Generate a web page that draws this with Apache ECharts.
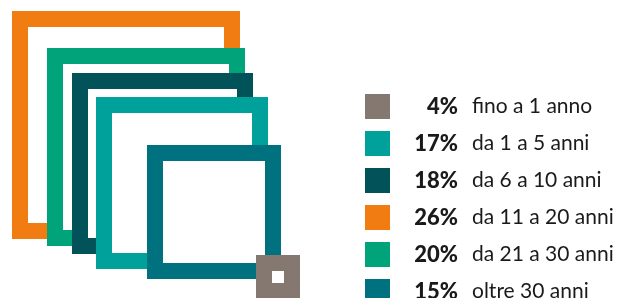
<!DOCTYPE html>
<html>
<head>
<meta charset="utf-8">
<style>
  html, body { margin: 0; padding: 0; background: #fff; }
  #chart { width: 617px; height: 298px; }
</style>
<script src="https://cdn.jsdelivr.net/npm/echarts@6/dist/echarts.min.js"></script>
</head>
<body>
<div id="chart"></div>
<script>
// fasce di anzianità (ordine legenda)
const categories = ['fino a 1 anno', 'da 1 a 5 anni', 'da 6 a 10 anni', 'da 11 a 20 anni', 'da 21 a 30 anni', 'oltre 30 anni']
const percents = [4, 17, 18, 26, 20, 15]
const colors = ['#857870', '#00a19b', '#02525a', '#f07c12', '#00a37a', '#00727f']

// ordine di disegno dei quadrati (dal fondo verso l'alto)
const drawOrder = [3, 4, 2, 1, 5, 0]
// quadrati: [x, y, lato] in unità degli assi
const squareBox = [
  [256, 255, 44],
  [96, 97, 172],
  [72, 73, 181],
  [12, 11, 228],
  [47, 48, 198],
  [147, 145, 134]
]
const frame = 16

const chartInstance = echarts.init(document.getElementById('chart'))

const seriesData = drawOrder.map(idx => {
  return {
    type: 'custom',
    name: categories[idx],
    silent: true,
    itemStyle: { color: colors[idx] },
    data: [squareBox[idx]],
    renderItem: (params, api) => {
      const p0 = api.coord([api.value(0), api.value(1)])
      const p1 = api.coord([api.value(0) + api.value(2), api.value(1) + api.value(2)])
      const half = frame / 2
      return {
        type: 'rect',
        shape: {
          x: p0[0] + half,
          y: p0[1] + half,
          width: p1[0] - p0[0] - frame,
          height: p1[1] - p0[1] - frame
        },
        style: { fill: '#fff', stroke: colors[idx], lineWidth: frame }
      }
    }
  }
})

// legenda: due blocchi per evitare che vada a capo in una seconda colonna
const legendBase = {
  orient: 'vertical',
  left: 360,
  icon: 'rect',
  itemWidth: 25,
  itemHeight: 25,
  itemGap: 12,
  selectedMode: false,
  itemStyle: { borderWidth: 0 },
  formatter: name => {
    const i = categories.indexOf(name)
    return '{p|' + percents[i] + '%}{t|' + name + '}'
  },
  textStyle: {
    rich: {
      p: {
        width: 63,
        align: 'right',
        fontFamily: 'Lato',
        fontWeight: 900,
        fontSize: 22,
        color: '#1a1a1a'
      },
      t: {
        align: 'right',
        padding: [0, 0, 0, 14],
        fontFamily: 'Lato',
        fontSize: 21,
        color: '#1a1a1a'
      }
    }
  }
}

const option = {
  animation: false,
  color: drawOrder.map(i => colors[i]),
  grid: { left: 0, right: 0, top: 0, bottom: 0 },
  xAxis: { type: 'value', min: 0, max: 617, show: false },
  yAxis: { type: 'value', min: 0, max: 298, inverse: true, show: false },
  legend: [
    Object.assign({}, legendBase, { top: 89, data: categories.slice(0, 5) }),
    Object.assign({}, legendBase, { top: 274, data: categories.slice(5) })
  ],
  series: seriesData
}
chartInstance.setOption(option)
</script>
</body>
</html>
